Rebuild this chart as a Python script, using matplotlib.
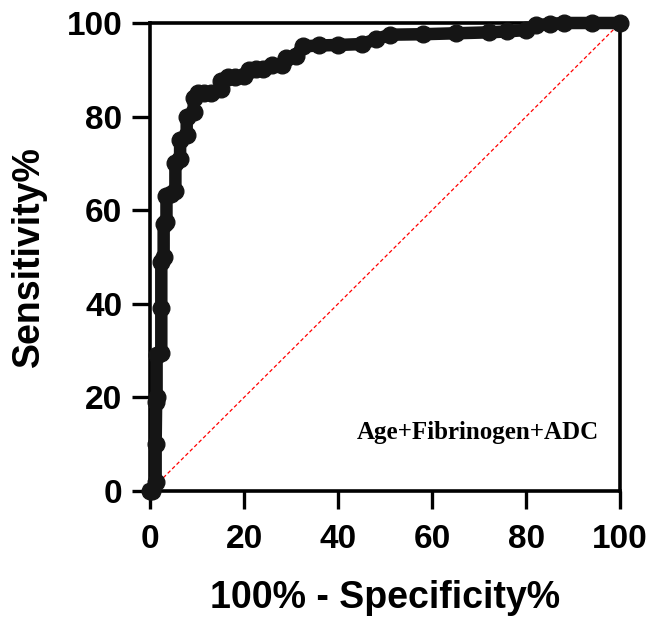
import matplotlib
matplotlib.use("Agg")
import matplotlib.pyplot as plt

# ROC points (100% - specificity, sensitivity)
fpr = [0, 0.5, 1.2, 1.2, 1.3, 1.4, 1.4, 2.4, 2.4, 2.4, 2.9, 2.9, 3.5, 3.5, 4.5, 5.4, 5.4,
       6.4, 6.4, 7.8, 7.8, 9.3, 9.3, 10.3, 11.5, 13, 15, 15, 16.5, 18, 20, 21, 22.5, 24,
       26, 28, 29, 31, 32.5, 36, 40, 45, 48, 51, 58, 65, 72, 76, 80, 82, 85, 88, 94, 100]
sens = [0, 0, 2, 10, 19, 20, 29, 29.5, 39, 49, 50, 57, 57.5, 63, 63.5, 64, 70,
        71, 75, 76, 80, 81, 84, 85, 85, 85, 86, 87.5, 88.4, 88.5, 88.6, 90, 90.1, 90.2,
        91, 91, 92.5, 93, 95, 95.2, 95.3, 95.5, 96.5, 97.5, 97.6, 97.8, 98, 98.2, 98.5, 99.5, 99.8, 100, 100, 100]
ticks = [0, 20, 40, 60, 80, 100]
label = "Age+Fibrinogen+ADC"

plt.rcParams['font.family'] = ['Liberation Sans', 'DejaVu Sans']

fig = plt.figure(figsize=(6.48, 6.18), dpi=100)
ax = fig.add_axes([0.2315, 0.2055, 0.7255, 0.7573])

ax.plot([0, 100], [0, 100], color='red', lw=0.9, ls=(0, (3, 2)), zorder=1)
ax.plot(fpr, sens, color='#151515', lw=9, marker='o', ms=12,
        solid_joinstyle='round', clip_on=False, zorder=3)

ax.set_xlim(0, 100)
ax.set_ylim(0, 100)
ax.set_xticks(ticks)
ax.set_yticks(ticks)
ax.set_xticklabels([str(t) for t in ticks], fontsize=24, fontweight='bold')
ax.set_yticklabels([str(t) for t in ticks], fontsize=24, fontweight='bold')
ax.tick_params(length=13, width=2.4)
ax.tick_params(axis='x', pad=11)
ax.tick_params(axis='y', pad=7)
for s in ax.spines.values():
    s.set_linewidth(2.6)

ax.set_xlabel("100% - Specificity%", fontsize=27, fontweight='bold', labelpad=18)
ax.set_ylabel("Sensitivity%", fontsize=27, fontweight='bold', labelpad=14)

ax.text(95.5, 12.4, label, fontsize=18, fontweight='bold',
        family=['Liberation Serif', 'DejaVu Serif'], ha='right', va='center')

fig.savefig("out.png", dpi=100)
